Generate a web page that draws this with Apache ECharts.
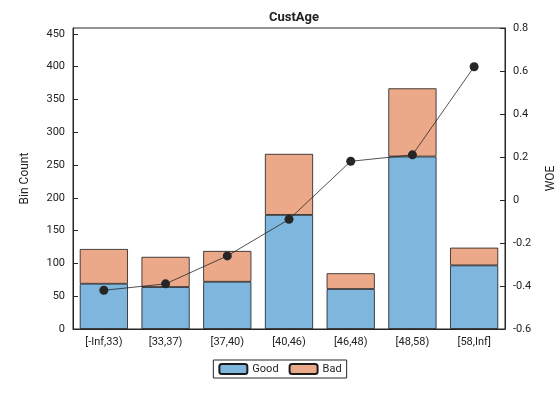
<!DOCTYPE html>
<html><head><meta charset="utf-8">
<script src="https://cdn.jsdelivr.net/npm/echarts@6/dist/echarts.min.js"></script>
<style>html,body{margin:0;background:#fff}#c{width:560px;height:420px}</style>
</head><body><div id="c"></div>
<script>
const categories = ['[-Inf,33)','[33,37)','[37,40)','[40,46)','[46,48)','[48,58)','[58,Inf]'];
const good = [69, 64, 72, 174, 61, 263, 97];
const bad = [53, 46, 47, 93, 24, 104, 27];
const woe = [-0.42, -0.39, -0.26, -0.09, 0.18, 0.21, 0.62];
const leftTicks = [0,50,100,150,200,250,300,350,400,450];

const chart = echarts.init(document.getElementById('c'));
const font = 'Roboto, "Liberation Sans", sans-serif';
chart.setOption({
  animation:false,
  title:{text:'CustAge',left:289,top:6,textAlign:'center',textStyle:{fontSize:13,fontWeight:'bold',color:'#222',fontFamily:font}},
  grid:{left:73,right:55,top:28,bottom:91,outerBoundsMode:'none',show:true,borderColor:'#262626',borderWidth:1},
  legend:{bottom:42,left:'center',itemWidth:28,itemHeight:10,itemGap:10,padding:[3,5],borderColor:'#262626',borderWidth:1,borderRadius:0,
    textStyle:{fontSize:11,color:'#222',fontFamily:font},data:['Good','Bad']},
  xAxis:{type:'category',data:categories,axisTick:{show:true,inside:true,alignWithLabel:true,lineStyle:{color:'#262626'}},
    axisLine:{lineStyle:{color:'#262626'}},axisLabel:{color:'#222',fontSize:11,fontFamily:font}},
  yAxis:[{type:'value',min:0,max:459,interval:50,name:'Bin Count',nameLocation:'middle',nameGap:42,
    nameTextStyle:{fontSize:12,color:'#222',fontFamily:font},
    axisLine:{show:true,lineStyle:{color:'#262626'}},axisTick:{show:true,inside:true},splitLine:{show:false},
    axisLabel:{color:'#222',fontSize:11,fontFamily:font,showMaxLabel:false,formatter:v=>leftTicks.includes(v)?v:''}},
   {type:'value',min:-0.6,max:0.8,interval:0.2,name:'WOE',nameLocation:'middle',nameGap:40,nameRotate:90,
    nameTextStyle:{fontSize:12,color:'#222',fontFamily:font},
    axisLine:{show:true,lineStyle:{color:'#262626'}},axisTick:{show:true,inside:true},splitLine:{show:false},
    axisLabel:{color:'#222',fontSize:11,fontFamily:font,formatter:v=>Math.abs(v)<1e-9?'0':(+v.toFixed(1)).toString()}}],
  series:[
    {name:'Good',type:'bar',stack:'s',data:good,barWidth:'78%',itemStyle:{color:'#7eb6de',borderColor:'#1a1a1a',borderWidth:0.8}},
    {name:'Bad',type:'bar',stack:'s',data:bad,itemStyle:{color:'#eca98a',borderColor:'#1a1a1a',borderWidth:0.8}},
    {name:'WOE',type:'line',yAxisIndex:1,data:woe,symbol:'circle',symbolSize:9,
      lineStyle:{color:'#262626',width:0.8},itemStyle:{color:'#262626'}}
  ]
});
</script></body></html>
